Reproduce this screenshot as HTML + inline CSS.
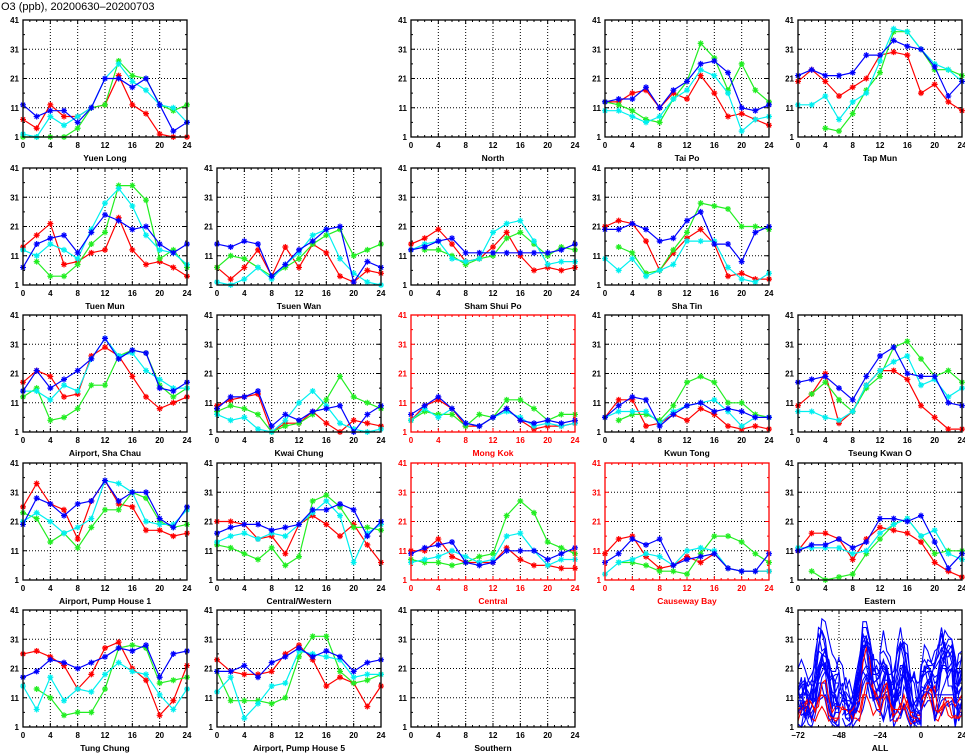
<!DOCTYPE html>
<html><head><meta charset="utf-8">
<style>
html,body{margin:0;padding:0;background:#fff;}
svg{display:block;font-family:"Liberation Sans",sans-serif;}
</style></head>
<body>
<svg id="chart" width="965" height="755" viewBox="0 0 965 755" xmlns="http://www.w3.org/2000/svg">
<text x="1" y="10" font-size="11" fill="#000">O3 (ppb), 20200630–20200703</text>
</svg>
<script>
const hours = [0,2,4,6,8,10,12,14,16,18,20,22,24];
const yTicks = [1,11,21,31,41];
const xTicks = [0,4,8,12,16,20,24];
const allXTicks = [-72,-48,-24,0,24];
const seriesColors = {red:'#ff0000', green:'#22ee22', cyan:'#00f0f0', blue:'#0000ff'};
const dayOrder = ['cyan','green','red','blue'];
const dayOffsets = [-72,-48,-24,0];

const yuenLong = {
 red:  [7,4,12,8,8,11,12,22,12,9,2,1,1],
 green:[1,1,1,1,4,11,12,27,22,21,12,10,12],
 cyan: [2,1,8,5,8,11,21,26,20,17,12,11,6],
 blue: [12,8,10,10,6,11,21,21,18,21,12,3,6]};
const north = {red:[],green:[],cyan:[],blue:[]};
const taiPo = {
 red:  [13,13,16,17,11,16,14,22,16,8,9,7,5],
 green:[13,12,10,7,6,14,20,33,28,17,26,17,13],
 cyan: [10,10,8,6,8,14,17,24,22,16,3,7,8],
 blue: [13,14,14,18,11,17,20,26,27,23,11,10,12]};
const tapMun = {
 red:  [20,24,20,15,18,21,29,30,29,16,19,13,10],
 green:[null,null,4,3,9,17,23,37,37,31,24,24,22],
 cyan: [12,12,15,7,13,16,27,38,37,31,26,24,20],
 blue: [22,24,22,22,23,29,29,34,32,31,25,15,20]};
const tuenMun = {
 red:  [14,18,22,8,9,12,13,24,13,8,9,7,4],
 green:[null,9,4,4,8,15,19,35,35,30,10,13,7],
 cyan: [13,11,15,13,10,20,29,34,28,18,13,12,8],
 blue: [7,15,17,18,12,19,25,23,20,21,15,12,15]};
const tsuenWan = {
 red:  [7,3,7,13,4,14,7,15,12,4,2,6,5],
 green:[7,11,10,7,4,7,10,15,18,20,11,13,15],
 cyan: [2,1,3,7,3,8,12,18,20,10,5,2,1],
 blue: [15,14,16,15,4,8,13,16,20,21,2,9,7]};
const shamShuiPo = {
 red:  [15,17,20,15,9,10,14,19,11,6,7,6,7],
 green:[null,13,13,11,8,10,11,17,19,15,11,14,13],
 cyan: [13,15,16,10,9,10,19,22,23,16,8,9,9],
 blue: [13,14,16,17,12,12,12,12,12,12,12,13,15]};
const shaTin = {
 red:  [21,23,22,16,6,12,17,20,15,4,5,3,3],
 green:[null,14,12,5,6,13,19,29,28,27,21,21,20],
 cyan: [10,6,10,4,6,8,16,16,16,7,3,2,5],
 blue: [20,20,22,20,16,17,23,26,15,15,9,19,21]};
const airportShaChau = {
 red:  [18,22,20,13,14,27,30,27,20,13,9,11,13],
 green:[13,16,5,6,9,17,17,27,29,28,17,13,16],
 cyan: [15,15,12,17,15,26,33,27,28,22,19,16,16],
 blue: [15,22,16,19,22,26,33,26,29,28,16,15,18]};
const kwaiChung = {
 red:  [10,12,13,14,1,4,4,8,4,1,5,4,3],
 green:[8,10,9,7,1,3,4,7,12,20,13,11,9],
 cyan: [7,5,6,2,1,5,11,15,10,4,2,1,2],
 blue: [9,13,13,15,3,7,5,8,9,10,1,7,10]};
const mongKok = {
 red:  [5,10,12,9,3,3,6,9,5,2,3,3,4],
 green:[5,8,7,7,3,7,6,12,12,9,5,7,7],
 cyan: [5,9,6,9,4,3,6,8,6,3,4,3,4],
 blue: [7,10,13,9,4,3,6,9,5,4,5,4,5]};
const kwunTong = {
 red:  [6,12,12,3,4,7,5,9,7,3,2,3,2],
 green:[null,5,7,7,5,10,18,20,18,11,11,7,6],
 cyan: [6,8,8,8,4,8,10,11,12,8,3,6,6],
 blue: [6,10,13,12,3,7,10,11,8,9,8,6,6]};
const tseungKwanO = {
 red:  [10,14,21,4,8,17,22,22,19,10,6,2,2],
 green:[null,14,18,12,8,16,20,30,32,26,20,22,18],
 cyan: [8,8,6,5,8,17,22,25,27,17,19,13,16],
 blue: [18,19,20,16,12,20,27,30,21,20,20,11,10]};
const airportPumpHouse1 = {
 red:  [26,34,27,25,15,28,35,27,26,18,18,16,17],
 green:[24,22,14,17,12,19,25,25,31,29,21,19,20],
 cyan: [21,24,21,17,19,22,35,34,31,21,20,20,25],
 blue: [20,29,27,23,27,28,35,28,31,31,22,19,26]};
const centralWestern = {
 red:  [21,21,20,15,16,10,20,23,20,16,20,13,7],
 green:[13,12,10,8,12,6,9,28,30,26,19,19,18],
 cyan: [14,16,17,15,17,16,20,24,28,23,7,17,20],
 blue: [17,19,20,20,18,19,20,25,25,27,25,16,21]};
const central = {
 red:  [11,11,15,9,7,7,7,12,8,6,6,5,5],
 green:[8,7,7,6,7,9,10,23,28,24,14,12,10],
 cyan: [7,8,9,11,9,7,8,16,17,11,6,8,8],
 blue: [10,12,13,14,7,6,7,11,11,11,8,10,12]};
const causewayBay = {
 red:  [10,15,16,9,5,6,9,7,10,5,4,4,4],
 green:[null,7,7,6,4,4,3,10,16,16,14,10,7],
 cyan: [3,7,8,10,9,6,11,12,11,5,4,4,4],
 blue: [7,10,15,13,15,6,8,9,10,5,4,4,10]};
const eastern = {
 red:  [11,17,17,15,8,15,19,18,17,14,7,4,2],
 green:[null,4,1,2,3,10,15,20,22,16,10,11,11],
 cyan: [12,12,12,12,10,11,17,20,22,16,18,10,8],
 blue: [11,13,13,15,12,14,22,22,21,23,14,5,10]};
const tungChung = {
 red:  [26,27,25,22,14,19,28,30,21,17,5,10,22],
 green:[null,14,11,5,6,6,14,28,29,28,16,17,18],
 cyan: [15,7,18,10,14,13,19,23,20,19,12,7,14],
 blue: [18,20,24,23,21,23,25,28,27,29,18,26,27]};
const airportPumpHouse5 = {
 red:  [24,20,19,19,20,26,29,24,15,18,16,8,15],
 green:[20,10,10,10,9,11,25,32,32,20,16,17,19],
 cyan: [13,18,4,9,15,16,27,26,25,24,18,19,19],
 blue: [20,20,22,18,23,25,28,25,27,25,20,23,24]};
const southern = {red:[],green:[],cyan:[],blue:[]};

const stations = [
 ['Yuen Long',yuenLong,0,0,false],['North',north,2,0,false],['Tai Po',taiPo,3,0,false],['Tap Mun',tapMun,4,0,false],
 ['Tuen Mun',tuenMun,0,1,false],['Tsuen Wan',tsuenWan,1,1,false],['Sham Shui Po',shamShuiPo,2,1,false],['Sha Tin',shaTin,3,1,false],
 ['Airport, Sha Chau',airportShaChau,0,2,false],['Kwai Chung',kwaiChung,1,2,false],['Mong Kok',mongKok,2,2,true],['Kwun Tong',kwunTong,3,2,false],['Tseung Kwan O',tseungKwanO,4,2,false],
 ['Airport, Pump House 1',airportPumpHouse1,0,3,false],['Central/Western',centralWestern,1,3,false],['Central',central,2,3,true],['Causeway Bay',causewayBay,3,3,true],['Eastern',eastern,4,3,false],
 ['Tung Chung',tungChung,0,4,false],['Airport, Pump House 5',airportPumpHouse5,1,4,false],['Southern',southern,2,4,false]
];

const NS='http://www.w3.org/2000/svg';
const svg=document.getElementById('chart');
const colLeft=[23,217,411,605,798], rowTop=[20,168,315,463,610], PW=164, PH=117;
function mk(tag,attrs,parent){const e=document.createElementNS(NS,tag);for(const k in attrs)e.setAttribute(k,attrs[k]);(parent||svg).appendChild(e);return e;}

function drawPanel(name,data,col,row,road,isAll){
  const L=colLeft[col],T=rowTop[row];
  const xmin=isAll?-72:0,xmax=24;
  const sx=v=>L+(v-xmin)/(xmax-xmin)*PW;
  const sy=v=>T+PH-(v-1)/40*PH;
  const fc=road?'#ff0000':'#000';
  const g=mk('g',{});
  
  
  const xt=isAll?allXTicks:xTicks;
  yTicks.slice(1,-1).forEach(v=>{const l=mk('line',{x1:L,x2:L+PW,y1:sy(v),y2:sy(v),stroke:'#000','stroke-width':1,'stroke-dasharray':'1,2'},g);
    
    });
  xt.slice(1,-1).forEach(v=>{const l=mk('line',{x1:sx(v),x2:sx(v),y1:T,y2:T+PH,stroke:'#000','stroke-width':1,'stroke-dasharray':'1,2'},g);
    
    });
  const step=isAll?4:1;
  for(let v=xmin;v<=xmax;v+=step){const len=(xt.includes(v))?4:2;
    mk('line',{x1:sx(v),x2:sx(v),y1:T+PH,y2:T+PH-len,stroke:fc},g);
    mk('line',{x1:sx(v),x2:sx(v),y1:T,y2:T+len,stroke:fc},g);}
  for(let v=1;v<=41;v+=5){const len=yTicks.includes(v)?4:2;
    mk('line',{x1:L,x2:L+len,y1:sy(v),y2:sy(v),stroke:fc},g);
    mk('line',{x1:L+PW,x2:L+PW-len,y1:sy(v),y2:sy(v),stroke:fc},g);}
  yTicks.forEach(v=>{const t=mk('text',{x:L-4,y:sy(v)+3,'font-size':8,'font-weight':'bold','text-anchor':'end',fill:fc},g);t.textContent=v;
    
    });
  xt.forEach(v=>{const t=mk('text',{x:sx(v),y:T+PH+11,'font-size':8,'font-weight':'bold','text-anchor':'middle',fill:fc},g);t.textContent=isAll&&v<0?'−'+(-v):v;
    
    });
  const lab=mk('text',{x:L+PW/2,y:T+PH+24,'font-size':8.5,'font-weight':'bold','text-anchor':'middle',fill:fc},g);
  lab.textContent=name;
  
  
  if(isAll){
    stations.forEach(st=>{
      const d=st[1];
      let path='',pen=false;
      dayOrder.forEach((c,di)=>{const arr=d[c];
        hours.forEach((h,i)=>{const v=arr[i];
          if(v==null||v===undefined){pen=false;return;}
          path+=(pen?'L':'M')+sx(h+dayOffsets[di]).toFixed(1)+','+sy(v).toFixed(1);pen=true;});});
      if(path){const p=mk('path',{d:path,fill:'none',stroke:st[4]?'#ff0000':'#0000ff','stroke-width':1.1},g);
        
        }
    });
  } else {
    ['red','green','cyan','blue'].forEach(c=>{
      const arr=data[c];let path='',pen=false;
      hours.forEach((h,i)=>{const v=arr[i];
        if(v==null){pen=false;return;}
        path+=(pen?'L':'M')+sx(h).toFixed(1)+','+sy(v).toFixed(1);pen=true;});
      if(!path)return;
      const p=mk('path',{d:path,fill:'none',stroke:seriesColors[c],'stroke-width':1.2},g);
      
      
      hours.forEach((h,i)=>{const v=arr[i];if(v==null)return;
        const x=sx(h),y=sy(v),r=3;
        const m=mk('path',{d:`M${x-r},${y}L${x+r},${y}M${x},${y-r}L${x},${y+r}M${x-r*0.7},${y-r*0.7}L${x+r*0.7},${y+r*0.7}M${x-r*0.7},${y+r*0.7}L${x+r*0.7},${y-r*0.7}`,stroke:seriesColors[c],'stroke-width':1.2},g);
        
        });
    });
  }
  const fr=mk('rect',{x:L,y:T,width:PW,height:PH,fill:'none',stroke:fc,'stroke-width':1.3},g);
  
  
}
stations.forEach(s=>drawPanel(s[0],s[1],s[2],s[3],s[4],false));
drawPanel('ALL',null,4,4,false,true);
</script>
</body></html>
